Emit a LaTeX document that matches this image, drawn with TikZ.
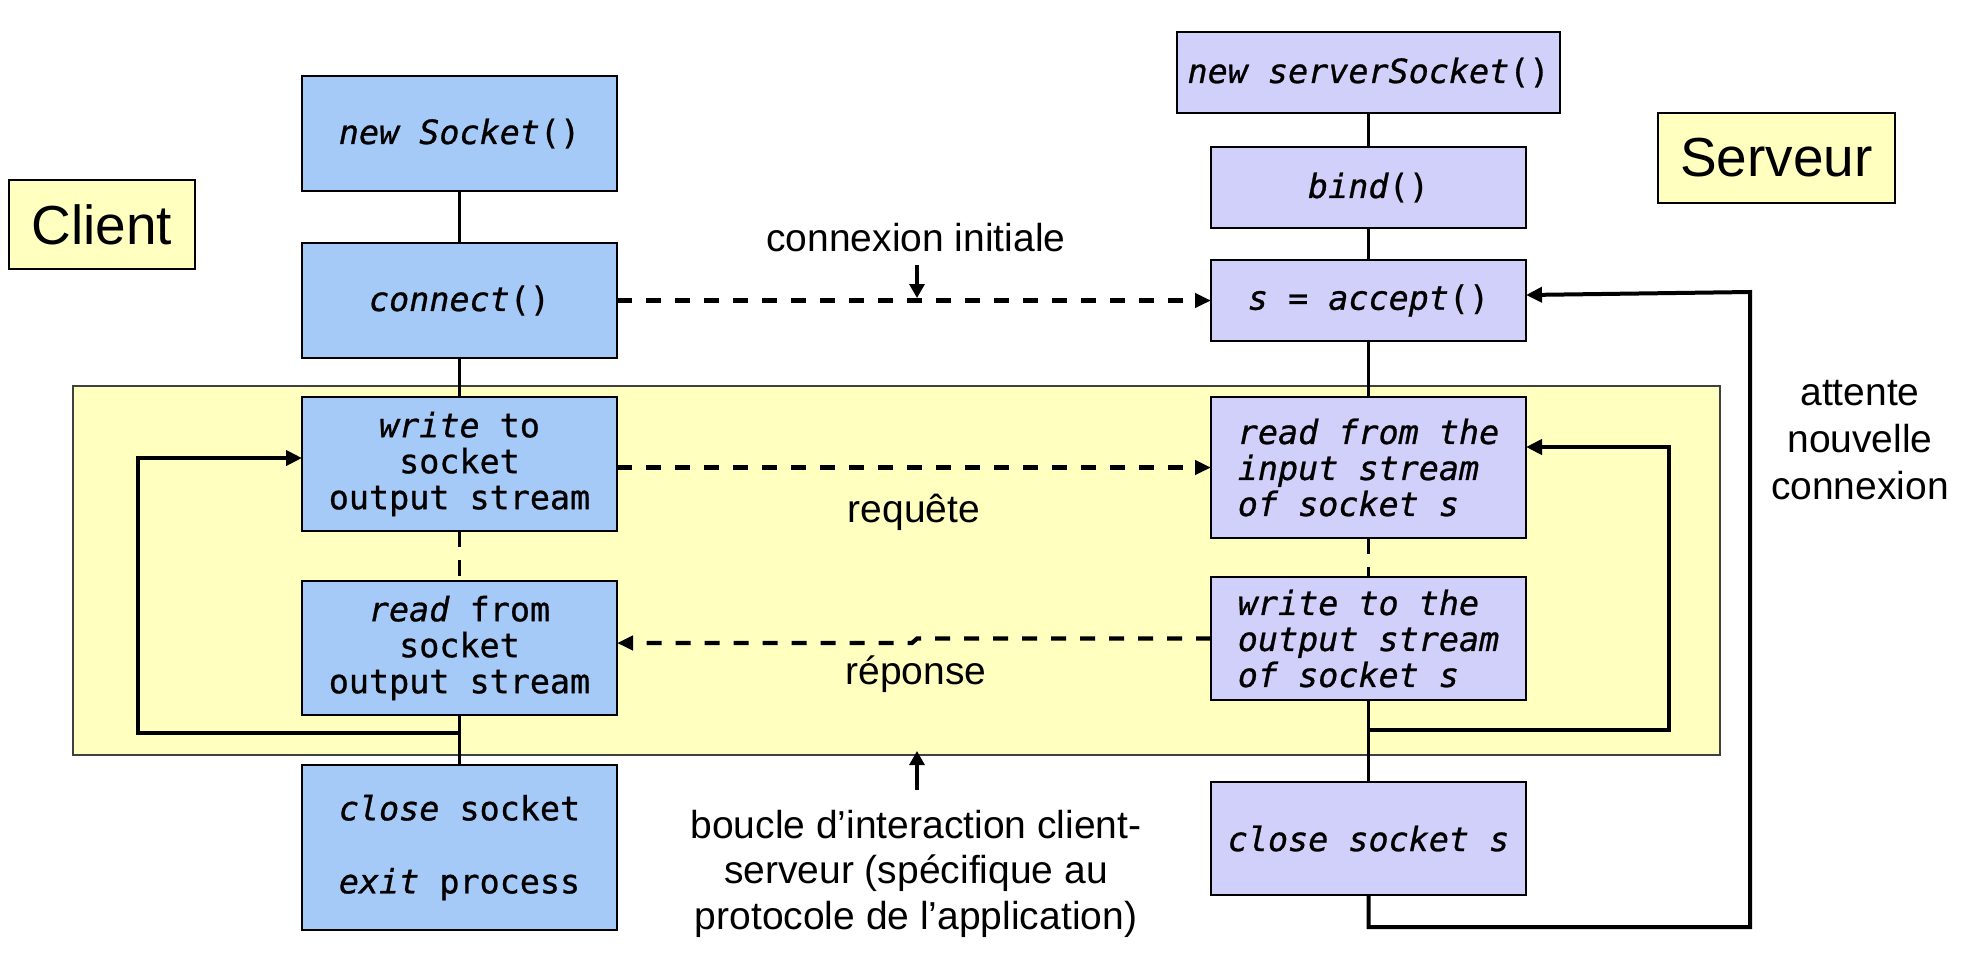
\documentclass[tikz,border=0pt]{standalone}
\usepackage{fontspec}
\setmainfont{Liberation Sans}
\newfontfamily\monofam[FakeBold=0.8]{DejaVu Sans Mono}
\usetikzlibrary{arrows.meta}
\definecolor{cblue}{RGB}{166,202,248}
\definecolor{slav}{RGB}{208,208,250}
\definecolor{lyel}{RGB}{255,255,192}
\begin{document}
\begin{tikzpicture}[x=0.5pt,y=-0.5pt,
 cbox/.style={draw=black, line width=1.3pt, fill=cblue, minimum width=157.5pt, inner sep=0pt, outer sep=0pt, align=center, font=\monofam\fontsize{16.7}{18}\selectfont},
 sbox/.style={cbox, fill=slav},
 lab/.style={font=\fontsize{19.5}{22.75}\selectfont, align=center, inner sep=0pt},
 side/.style={draw=black, line width=1pt, fill=lyel, inner sep=0pt, outer sep=0pt, font=\fontsize{27.5}{30}\selectfont},
 solidline/.style={line width=1.3pt},
 vdash/.style={line width=1.6pt, dash pattern=on 8pt off 6.5pt},
 hdash/.style={line width=2.1pt, dash pattern=on 7.5pt off 7pt, -{Triangle[length=8pt,width=7pt]}},
 loopline/.style={line width=2.4pt, -{Triangle[length=8pt,width=7.5pt]}},
 smallarrow/.style={line width=1.6pt, -{Triangle[length=7pt,width=7.5pt]}}
]
\useasboundingbox (0,0) rectangle (1968,960);
\filldraw[fill=lyel, draw=black!75, line width=0.8pt] (73,386) rectangle (1720,755);

\node[side, minimum width=93pt, minimum height=44.5pt] (client) at (102,224.5) {Client};
\node[side, minimum width=118.5pt, minimum height=45pt] (serveur) at (1776.5,158) {Serveur};

\node[cbox, minimum height=57.5pt] (ns) at (459.5,133.5) {\textit{new Socket}()};
\node[cbox, minimum height=57.5pt] (cn) at (459.5,300.5) {\textit{connect}()};
\node[cbox, minimum height=67pt] (cw) at (459.5,464) {\textit{write} to\\socket\\output stream};
\node[cbox, minimum height=67pt] (cr) at (459.5,648) {\textit{read} from\\socket\\output stream};
\node[cbox, minimum height=82.5pt] (cc) at (459.5,847.5) {\textit{close} socket\\[18.5pt]\textit{exit} process};

\node[sbox, minimum width=191.5pt, minimum height=40.5pt] (sns) at (1368.5,72.5) {\textit{new serverSocket}()};
\node[sbox, minimum height=40.5pt] (bind) at (1368.5,187.5) {\textit{bind}()};
\node[sbox, minimum height=40.5pt] (acc) at (1368.5,300.5) {\textit{s = accept}()};
\node[sbox, minimum height=70.5pt, align=left] (sr) at (1368.5,467.5) {\textit{read from the}\\\textit{input stream}\\\textit{of socket s}};
\node[sbox, minimum height=61.5pt, align=left] (sw) at (1368.5,638.5) {\textit{write to the}\\\textit{output stream}\\\textit{of socket s}};
\node[sbox, minimum height=56.5pt] (sc) at (1368.5,838.5) {\textit{close socket s}};

\node[lab] (lci) at (916,238) {connexion initiale};
\node[lab] (lreq) at (914,512) {requête};
\node[lab] (lrep) at (916,674) {réponse};
\node[lab] (lbou) at (916,873.5) {boucle d’interaction client-\\serveur (spécifique au\\protocole de l’application)};
\node[lab, font=\fontsize{19.5}{23.5}\selectfont] (latt) at (1860,440) {attente\\nouvelle\\connexion};

\draw[solidline] (ns) -- (cn);
\draw[solidline] (cn) -- (cw);
\draw[vdash] (cw) -- (cr);
\draw[solidline] (cr) -- (cc);
\draw[solidline] (sns) -- (bind);
\draw[solidline] (bind) -- (acc);
\draw[solidline] (acc) -- (sr);
\draw[vdash] (sr) -- (sw);
\draw[solidline] (sw) -- (sc);

\draw[hdash] (cn) -- (acc);
\draw[hdash] ([yshift=-1.75pt]cw.east) -- (sr.west);
\coordinate (rj1) at (917,638.5);
\coordinate (rj2) at (912,643);
\draw[hdash] (sw.west) -- (rj1) -- (rj2) -- ([yshift=2.5pt]cr.east);

\coordinate (cl) at (459.5,733);
\coordinate (clc) at (138,733);
\draw[loopline] (cl) -- (clc) |- ([yshift=3pt]cw.west);
\coordinate (sl) at (1368.5,730);
\coordinate (slc) at (1669,730);
\draw[loopline] (sl) -- (slc) |- ([yshift=10.25pt]sr.east);
\coordinate (rb) at (1368.5,927);
\coordinate (rc) at (1750,927);
\coordinate (rt) at (1750,292);
\draw[line width=2pt, -{Triangle[length=8pt,width=7.5pt]}] (sc.south) -- (rb) -- (rc) -- (rt) -- ([yshift=2.75pt]acc.east);

\coordinate (cis) at (917,265);
\coordinate (cie) at (917,298);
\draw[smallarrow] (cis) -- (cie);
\coordinate (bs) at (917,790);
\coordinate (be) at (917,751);
\draw[smallarrow] (bs) -- (be);
\end{tikzpicture}
\end{document}
